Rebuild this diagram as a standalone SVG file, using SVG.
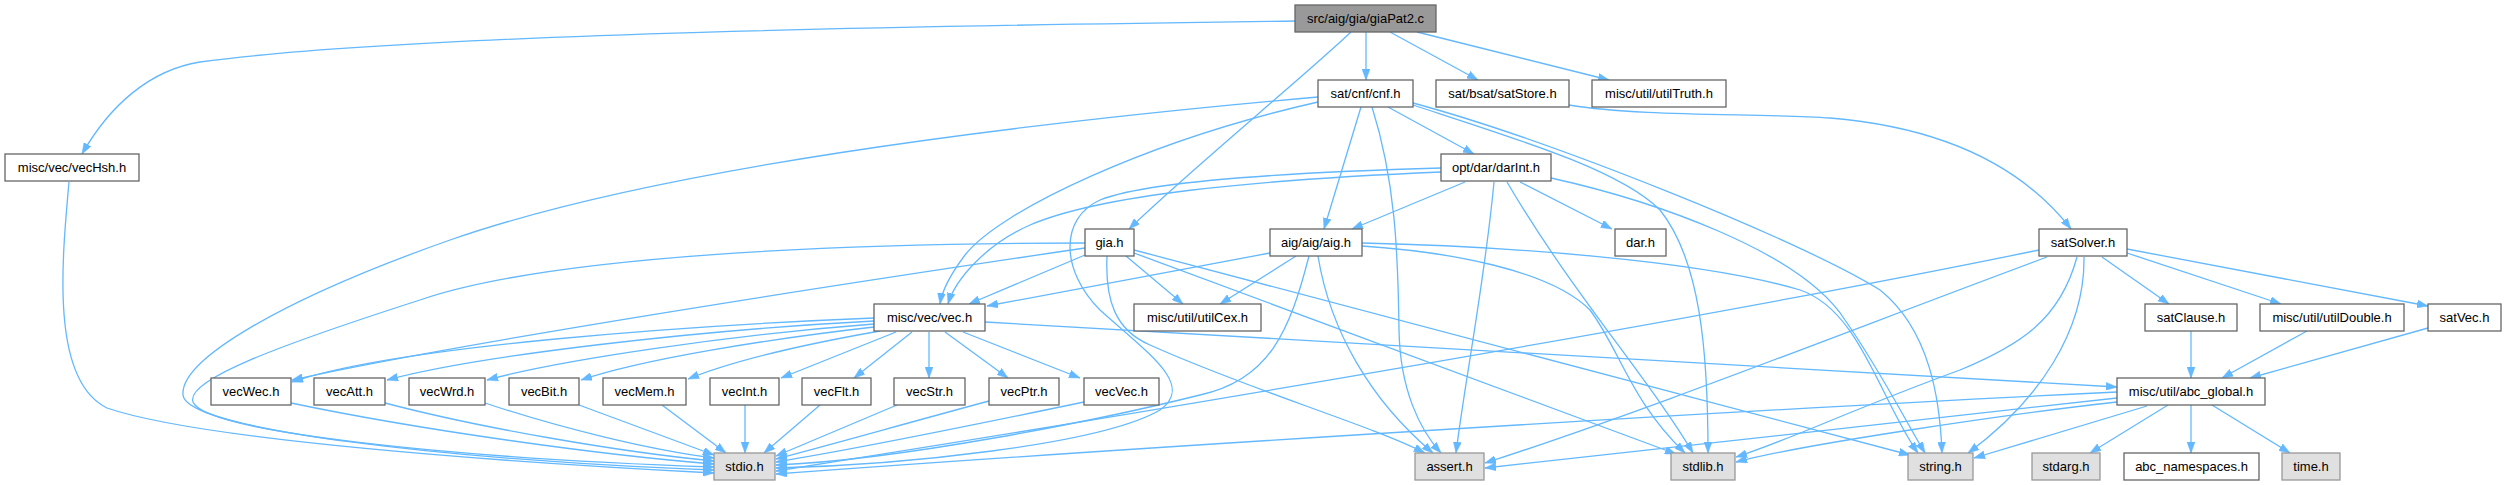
<svg xmlns="http://www.w3.org/2000/svg" width="2506" height="485" viewBox="0 0 2506 485">
<style>
.n rect{fill:#ffffff;stroke:#666666;stroke-width:1.3}
.n.root rect{fill:#999999;stroke:#666666}
.n.sys rect{fill:#e0e0e0;stroke:#999999}
.n text{font-family:"Liberation Sans",Arial,sans-serif;font-size:13px;fill:#000000;text-anchor:middle}
#edges path{fill:none;stroke:#63b8ff;stroke-width:1.3;marker-end:url(#ah)}
</style>
<defs>
<marker id="ah" markerUnits="userSpaceOnUse" markerWidth="11" markerHeight="8" refX="11" refY="4" orient="auto">
<path d="M0,0 L11,4 L0,8 z" fill="#63b8ff" stroke="#63b8ff" stroke-width="0.5"/>
</marker>
</defs>
<rect x="0" y="0" width="2506" height="485" fill="#ffffff"/>
<g id="edges">
<path d="M1295,21 C1000,25 420,32 200,62 C150,70 110,105 82,154"/>
<path d="M1351,32 C1300,80 1190,170 1129,229"/>
<path d="M1366,32 L1366,80"/>
<path d="M1390,32 L1478,80"/>
<path d="M1417,32 L1609,80"/>
<path d="M1569,105 C1640,117 1760,113 1830,118 C1950,128 2025,170 2071,229"/>
<path d="M69,182 C62,260 50,380 107,408 C200,440 500,462 714,473"/>
<path d="M1318,97 C1000,125 650,170 450,240 C280,300 180,360 183,395 C186,430 450,460 714,470"/>
<path d="M1318,102 C1150,140 1000,210 965,255 C950,275 942,290 940,304"/>
<path d="M1361,107 L1324,229"/>
<path d="M1388,107 L1474,154"/>
<path d="M1372,107 C1395,180 1398,250 1399,330 C1400,390 1420,430 1441,453"/>
<path d="M1413,105 C1520,140 1620,170 1660,210 C1700,260 1708,350 1708,453"/>
<path d="M1413,103 C1550,140 1800,240 1880,290 C1930,330 1940,400 1942,453"/>
<path d="M1441,172 C1250,180 1100,195 1030,225 C985,245 955,280 948,304"/>
<path d="M1441,168 C1300,172 1150,180 1100,200 C1060,218 1060,270 1100,310 C1150,355 1195,385 1160,410 C1100,445 900,465 776,468"/>
<path d="M1465,182 L1352,229"/>
<path d="M1520,182 L1612,229"/>
<path d="M1494,182 C1485,280 1465,380 1456,453"/>
<path d="M1507,182 C1570,290 1650,380 1693,453"/>
<path d="M1551,178 C1650,200 1800,250 1845,320 C1880,370 1905,420 1925,453"/>
<path d="M1085,255 L969,304"/>
<path d="M1085,243 C850,243 550,255 420,300 C280,345 185,380 193,402 C205,432 450,458 714,467"/>
<path d="M1085,248 C800,290 450,345 292,380"/>
<path d="M1126,256 L1183,304"/>
<path d="M1107,256 C1105,300 1115,330 1150,345 C1250,390 1370,425 1425,453"/>
<path d="M1134,253 L1676,454"/>
<path d="M1134,250 L1910,455"/>
<path d="M1270,253 L987,306"/>
<path d="M1296,256 L1220,304"/>
<path d="M1309,256 C1290,330 1270,380 1200,395 C1100,420 900,460 776,465"/>
<path d="M1318,256 C1330,330 1370,400 1433,453"/>
<path d="M1362,246 C1450,252 1550,270 1590,310 C1620,350 1630,400 1685,453"/>
<path d="M1362,243 C1500,246 1700,260 1800,290 C1860,310 1880,400 1918,453"/>
<path d="M2039,250 C1700,320 1100,420 776,471"/>
<path d="M2047,257 C1850,330 1650,410 1485,463"/>
<path d="M2077,257 C2060,320 2020,345 1960,370 C1850,410 1790,440 1736,457"/>
<path d="M2084,257 C2085,330 2040,400 1968,453"/>
<path d="M2102,257 L2169,304"/>
<path d="M2127,253 L2281,304"/>
<path d="M2127,249 L2428,306"/>
<path d="M2191,331 L2191,378"/>
<path d="M2307,331 L2222,378"/>
<path d="M2428,328 L2250,378"/>
<path d="M2117,392 C1700,412 1100,450 776,474"/>
<path d="M2117,398 L1485,468"/>
<path d="M2117,402 C2000,415 1800,445 1736,462"/>
<path d="M2147,406 L1974,458"/>
<path d="M2168,405 L2090,453"/>
<path d="M2191,405 L2191,453"/>
<path d="M2212,405 L2290,453"/>
<path d="M985,322 L2117,387"/>
<path d="M874,318 C700,325 400,345 292,382"/>
<path d="M874,321 C700,330 480,355 387,380"/>
<path d="M874,324 C730,335 560,360 487,380"/>
<path d="M874,327 C760,340 640,360 581,380"/>
<path d="M880,331 C800,345 730,362 688,379"/>
<path d="M896,332 L781,378"/>
<path d="M912,332 L854,378"/>
<path d="M929,332 L929,378"/>
<path d="M945,332 L1008,378"/>
<path d="M963,332 L1080,378"/>
<path d="M291,403 C420,430 600,455 714,464"/>
<path d="M385,403 C480,428 620,452 714,461"/>
<path d="M485,403 C560,428 650,450 714,458"/>
<path d="M579,405 L714,455"/>
<path d="M662,405 L726,453"/>
<path d="M745,405 L745,453"/>
<path d="M820,405 L764,453"/>
<path d="M897,405 L776,456"/>
<path d="M989,401 C900,425 830,445 776,459"/>
<path d="M1084,402 C950,430 850,450 776,462"/>
</g>
<g id="n_giaPat2" class="n root"><rect x="1295" y="5" width="141" height="27"/><text x="1365.5" y="23">src/aig/gia/giaPat2.c</text></g>
<g id="n_cnf" class="n"><rect x="1318" y="80" width="95" height="27"/><text x="1365.5" y="98">sat/cnf/cnf.h</text></g>
<g id="n_satStore" class="n"><rect x="1436" y="80" width="133" height="27"/><text x="1502.5" y="98">sat/bsat/satStore.h</text></g>
<g id="n_utilTruth" class="n"><rect x="1592" y="80" width="134" height="27"/><text x="1659" y="98">misc/util/utilTruth.h</text></g>
<g id="n_vecHsh" class="n"><rect x="5" y="154" width="134" height="27"/><text x="72" y="172">misc/vec/vecHsh.h</text></g>
<g id="n_darInt" class="n"><rect x="1441" y="154" width="110" height="27"/><text x="1496" y="172">opt/dar/darInt.h</text></g>
<g id="n_gia" class="n"><rect x="1085" y="229" width="49" height="27"/><text x="1109.5" y="247">gia.h</text></g>
<g id="n_aig" class="n"><rect x="1270" y="229" width="92" height="27"/><text x="1316" y="247">aig/aig/aig.h</text></g>
<g id="n_dar" class="n"><rect x="1615" y="229" width="51" height="27"/><text x="1640.5" y="247">dar.h</text></g>
<g id="n_satSolver" class="n"><rect x="2039" y="229" width="88" height="27"/><text x="2083" y="247">satSolver.h</text></g>
<g id="n_vec" class="n"><rect x="874" y="304" width="111" height="27"/><text x="929.5" y="322">misc/vec/vec.h</text></g>
<g id="n_utilCex" class="n"><rect x="1134" y="304" width="127" height="27"/><text x="1197.5" y="322">misc/util/utilCex.h</text></g>
<g id="n_satClause" class="n"><rect x="2145" y="304" width="92" height="27"/><text x="2191" y="322">satClause.h</text></g>
<g id="n_utilDouble" class="n"><rect x="2260" y="304" width="144" height="27"/><text x="2332" y="322">misc/util/utilDouble.h</text></g>
<g id="n_satVec" class="n"><rect x="2428" y="304" width="73" height="27"/><text x="2464.5" y="322">satVec.h</text></g>
<g id="n_vecWec" class="n"><rect x="211" y="378" width="80" height="27"/><text x="251" y="396">vecWec.h</text></g>
<g id="n_vecAtt" class="n"><rect x="314" y="378" width="71" height="27"/><text x="349.5" y="396">vecAtt.h</text></g>
<g id="n_vecWrd" class="n"><rect x="409" y="378" width="76" height="27"/><text x="447" y="396">vecWrd.h</text></g>
<g id="n_vecBit" class="n"><rect x="509" y="378" width="70" height="27"/><text x="544" y="396">vecBit.h</text></g>
<g id="n_vecMem" class="n"><rect x="603" y="378" width="83" height="27"/><text x="644.5" y="396">vecMem.h</text></g>
<g id="n_vecInt" class="n"><rect x="710" y="378" width="69" height="27"/><text x="744.5" y="396">vecInt.h</text></g>
<g id="n_vecFlt" class="n"><rect x="802" y="378" width="69" height="27"/><text x="836.5" y="396">vecFlt.h</text></g>
<g id="n_vecStr" class="n"><rect x="894" y="378" width="71" height="27"/><text x="929.5" y="396">vecStr.h</text></g>
<g id="n_vecPtr" class="n"><rect x="989" y="378" width="70" height="27"/><text x="1024" y="396">vecPtr.h</text></g>
<g id="n_vecVec" class="n"><rect x="1084" y="378" width="75" height="27"/><text x="1121.5" y="396">vecVec.h</text></g>
<g id="n_abc_global" class="n"><rect x="2117" y="378" width="148" height="27"/><text x="2191" y="396">misc/util/abc_global.h</text></g>
<g id="n_stdio" class="n sys"><rect x="714" y="453" width="61" height="27"/><text x="744.5" y="471">stdio.h</text></g>
<g id="n_assert" class="n sys"><rect x="1415" y="453" width="69" height="27"/><text x="1449.5" y="471">assert.h</text></g>
<g id="n_stdlib" class="n sys"><rect x="1671" y="453" width="64" height="27"/><text x="1703" y="471">stdlib.h</text></g>
<g id="n_string" class="n sys"><rect x="1908" y="453" width="65" height="27"/><text x="1940.5" y="471">string.h</text></g>
<g id="n_stdarg" class="n sys"><rect x="2032" y="453" width="68" height="27"/><text x="2066" y="471">stdarg.h</text></g>
<g id="n_abc_namespaces" class="n"><rect x="2124" y="453" width="135" height="27"/><text x="2191.5" y="471">abc_namespaces.h</text></g>
<g id="n_time" class="n sys"><rect x="2282" y="453" width="58" height="27"/><text x="2311" y="471">time.h</text></g>
</svg>
